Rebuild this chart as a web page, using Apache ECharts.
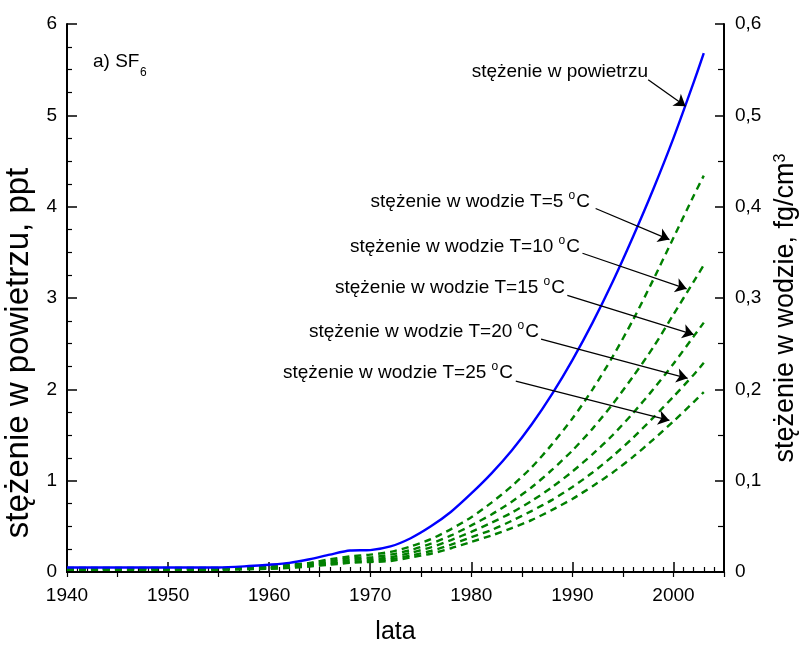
<!DOCTYPE html>
<html>
<head>
<meta charset="utf-8">
<script src="https://cdn.jsdelivr.net/npm/echarts@6/dist/echarts.min.js"></script>
<style>
  html, body { margin: 0; padding: 0; background: #fff; }
  #chart { width: 799px; height: 646px; }
</style>
</head>
<body>
<div id="chart"></div>
<script>
// lata (wspolne dla wszystkich serii)
const years = [1940, 1950, 1955, 1958, 1960, 1962, 1964, 1966, 1968, 1970, 1972, 1974, 1976, 1978,
  1980, 1982, 1984, 1986, 1988, 1990, 1992, 1994, 1996, 1998, 2000, 2002, 2003];
// stezenie w powietrzu, ppt (lewa os)
const airPpt = [0.05, 0.05, 0.05, 0.065, 0.08, 0.10, 0.14, 0.19, 0.235, 0.24, 0.28, 0.37, 0.50, 0.66,
  0.86, 1.08, 1.33, 1.62, 1.95, 2.32, 2.73, 3.18, 3.67, 4.19, 4.75, 5.36, 5.68];
// stezenie w wodzie, fg/cm3 (prawa os)
const waterT5 = [0.0045, 0.0045, 0.0045, 0.005, 0.006, 0.008, 0.010, 0.014, 0.017, 0.019, 0.022, 0.028, 0.036, 0.047,
  0.060, 0.076, 0.094, 0.115, 0.140, 0.168, 0.200, 0.236, 0.276, 0.320, 0.366, 0.412, 0.434];
const waterT10 = [0.004, 0.004, 0.004, 0.0045, 0.005, 0.007, 0.009, 0.012, 0.015, 0.016, 0.019, 0.024, 0.031, 0.040,
  0.051, 0.063, 0.077, 0.093, 0.112, 0.133, 0.157, 0.184, 0.214, 0.246, 0.282, 0.318, 0.336];
const waterT15 = [0.0035, 0.0035, 0.0035, 0.004, 0.0045, 0.006, 0.008, 0.010, 0.013, 0.014, 0.016, 0.021, 0.027, 0.035,
  0.044, 0.054, 0.065, 0.078, 0.093, 0.110, 0.129, 0.150, 0.174, 0.200, 0.228, 0.258, 0.273];
const waterT20 = [0.003, 0.003, 0.003, 0.0035, 0.004, 0.005, 0.007, 0.009, 0.011, 0.012, 0.014, 0.018, 0.023, 0.030,
  0.038, 0.046, 0.056, 0.067, 0.079, 0.093, 0.109, 0.127, 0.147, 0.169, 0.192, 0.216, 0.229];
const waterT25 = [0.0025, 0.0025, 0.0025, 0.003, 0.0035, 0.0045, 0.006, 0.008, 0.010, 0.011, 0.012, 0.016, 0.020, 0.026,
  0.033, 0.040, 0.048, 0.057, 0.068, 0.080, 0.094, 0.109, 0.126, 0.145, 0.165, 0.186, 0.197];
const waterLabels = ['T=5', 'T=10', 'T=15', 'T=20', 'T=25'];

const FONT = 'Liberation Sans, Arial, sans-serif';

function pairs(vals) {
  return years.map((y, i) => [y, vals[i]]);
}

// strzalki: [poczatek przy napisie, grot na krzywej]
function arrow(from, to) {
  return {
    silent: true,
    symbol: ['none', 'arrow'],
    symbolSize: 11,
    label: { show: false },
    lineStyle: { color: '#000', width: 1.3, type: 'solid' },
    emphasis: { disabled: true },
    data: [[{ coord: from }, { coord: to }]]
  };
}

const waterSets = [waterT5, waterT10, waterT15, waterT20, waterT25];
const waterArrows = [
  [[1992.3, 0.398], [1999.6, 0.364]],
  [[1991.0, 0.349], [2001.3, 0.310]],
  [[1989.5, 0.303], [2002.0, 0.260]],
  [[1986.9, 0.255], [2001.4, 0.212]],
  [[1984.4, 0.209], [1999.6, 0.166]]
];
const labelPos = [[590, 202], [580, 247], [565, 288], [539, 332], [513, 373]];

let series = waterSets.map((vals, i) => ({
  name: waterLabels[i],
  type: 'line',
  yAxisIndex: 1,
  xAxisIndex: 0,
  data: pairs(vals),
  smooth: 0.25,
  showSymbol: false,
  lineStyle: { color: '#008000', width: 2.4, type: [7, 5] },
  markLine: arrow(waterArrows[i][0], waterArrows[i][1])
}));
series.push({
  name: 'powietrze',
  type: 'line',
  yAxisIndex: 0,
  xAxisIndex: 0,
  data: pairs(airPpt),
  smooth: 0.25,
  showSymbol: false,
  lineStyle: { color: '#0000ff', width: 2.4 },
  markLine: arrow([1997.5, 5.39], [2001.2, 5.10])
});

let graphic = [
  { type: 'text', x: 93, y: 62, style: { text: 'a) SF', fontSize: 19, fontFamily: FONT, fill: '#000', verticalAlign: 'middle' } },
  { type: 'text', x: 140, y: 73, style: { text: '6', fontSize: 12, fontFamily: FONT, fill: '#000', verticalAlign: 'middle' } },
  { type: 'text', x: 648, y: 72, style: { text: 'stężenie w powietrzu', fontSize: 19, fontFamily: FONT, fill: '#000', align: 'right', verticalAlign: 'middle' } }
];
waterLabels.forEach((t, i) => {
  graphic.push({
    type: 'text', x: labelPos[i][0], y: labelPos[i][1],
    style: {
      text: 'stężenie w wodzie ' + t + ' {sup|o}C',
      fontSize: 19, fontFamily: FONT, fill: '#000', align: 'right', verticalAlign: 'middle',
      rich: { sup: { fontSize: 12, fontFamily: FONT, fill: '#000', padding: [0, 1, 12, 0] } }
    }
  });
});

let chart = echarts.init(document.getElementById('chart'));
chart.setOption({
  animation: false,
  backgroundColor: '#fff',
  textStyle: { fontFamily: FONT },
  grid: { left: 67, right: 75, top: 24, bottom: 74, containLabel: false, outerBoundsMode: 'none' },
  graphic: graphic,
  xAxis: [
    {
      type: 'value', min: 1940, max: 2005, interval: 10,
      name: 'lata', nameLocation: 'middle', nameGap: 48,
      nameTextStyle: { fontSize: 25, color: '#000', fontFamily: FONT },
      axisLine: { lineStyle: { color: '#000', width: 2 } },
      axisTick: { inside: true, length: 10, lineStyle: { color: '#000', width: 1.5 } },
      minorTick: { show: true, splitNumber: 10, length: 5, lineStyle: { color: '#000', width: 1.2 } },
      axisLabel: { fontSize: 19, color: '#000', margin: 14, fontFamily: FONT, showMaxLabel: false, formatter: v => String(v) },
      splitLine: { show: false }
    },
    {
      type: 'value', position: 'top', min: 1940, max: 2005, interval: 5,
      axisLine: { lineStyle: { color: '#000', width: 2 } },
      axisTick: { inside: true, length: 5, lineStyle: { color: '#000', width: 1.2 } },
      axisLabel: { show: false },
      splitLine: { show: false }
    }
  ],
  yAxis: [
    {
      type: 'value', min: 0, max: 6, interval: 1,
      name: 'stężenie w powietrzu, ppt', nameLocation: 'middle', nameGap: 32, nameRotate: 90,
      nameTextStyle: { fontSize: 33, color: '#000', fontFamily: FONT, padding: [0, 110, 0, 0] },
      axisLine: { lineStyle: { color: '#000', width: 2 } },
      axisTick: { inside: true, length: 10, lineStyle: { color: '#000', width: 1.5 } },
      minorTick: { show: true, splitNumber: 4, length: 5, lineStyle: { color: '#000', width: 1.2 } },
      axisLabel: { fontSize: 19, color: '#000', margin: 10, fontFamily: FONT },
      splitLine: { show: false }
    },
    {
      type: 'value', position: 'right', min: 0, max: 0.6, interval: 0.1,
      name: 'stężenie w wodzie, fg/cm{sup|3}', nameLocation: 'middle', nameGap: 40, nameRotate: 90,
      nameTextStyle: {
        fontSize: 27, color: '#000', fontFamily: FONT, padding: [0, 20, 0, 0],
        rich: { sup: { fontSize: 16, color: '#000', fontFamily: FONT, verticalAlign: 'top' } }
      },
      axisLine: { lineStyle: { color: '#000', width: 2 } },
      axisTick: { inside: true, length: 9, lineStyle: { color: '#000', width: 1.5 } },
      minorTick: { show: true, splitNumber: 2, length: 6, lineStyle: { color: '#000', width: 1.2 } },
      axisLabel: {
        fontSize: 19, color: '#000', margin: 11, fontFamily: FONT,
        formatter: v => v === 0 ? '0' : v.toFixed(1).replace('.', ',')
      },
      splitLine: { show: false }
    }
  ],
  series: series
});
</script>
</body>
</html>
